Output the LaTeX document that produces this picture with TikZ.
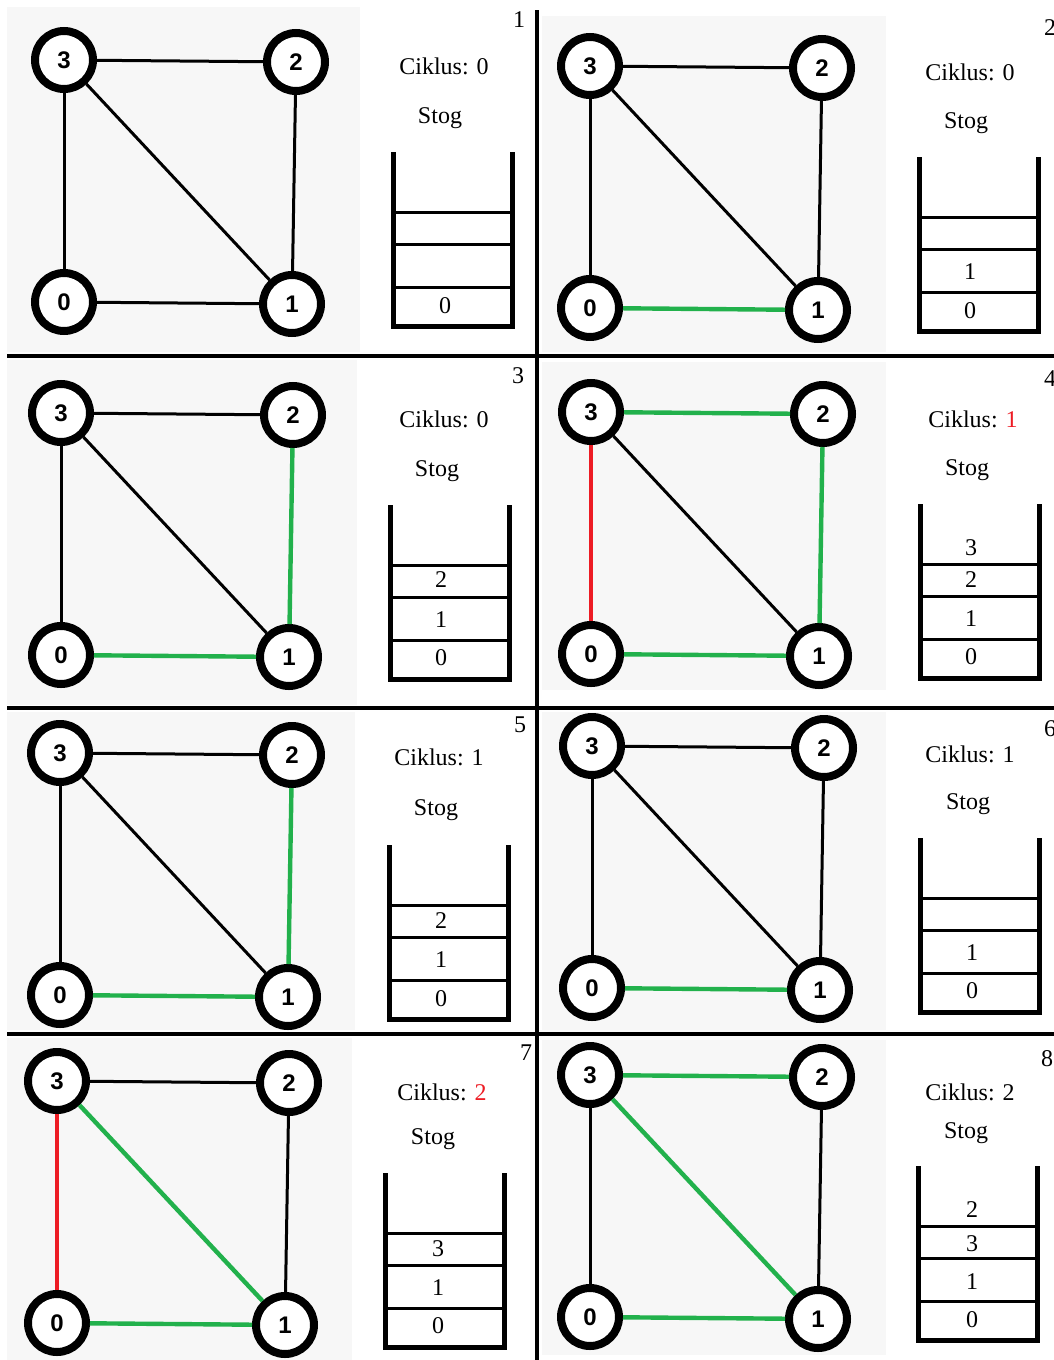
\documentclass[tikz,border=0pt]{standalone}
\usepackage{fontspec}
\setmainfont{Liberation Serif}
\newfontfamily\vtxfont{Liberation Sans}
\definecolor{bgc}{RGB}{247,247,247}
\definecolor{cgreen}{RGB}{34,177,76}
\definecolor{cred}{RGB}{237,28,36}
\tikzset{
  vtx/.style={circle,draw=black,line width=4pt,fill=white,minimum size=29pt,inner sep=0pt,
    font=\vtxfont\bfseries\fontsize{12}{14}\selectfont},
  k/.style={line width=1.5pt,black},
  g/.style={line width=2.2pt,cgreen},
  r/.style={line width=2.2pt,cred},
  bgbox/.style={fill=bgc,draw=none},
  divider/.style={line width=2pt,black},
  wall/.style={line width=2.5pt,black},
  slot/.style={line width=1.5pt,black},
  lbl/.style={font=\fontsize{12}{14}\selectfont,inner sep=0pt},
  stnum/.style={font=\fontsize{12}{14}\selectfont,inner sep=0pt},
}
% #1 id, #2 x, #3 y of vertex 3, #4 c32, #5 c30, #6 c31, #7 c21, #8 c01
\newcommand\graphp[8]{%
  \node[vtx] (#1v3) at (#2,#3) {3};
  \node[vtx] (#1v2) at ({#2+232},{#3+2}) {2};
  \node[vtx] (#1v0) at (#2,{#3+242}) {0};
  \node[vtx] (#1v1) at ({#2+228},{#3+244}) {1};
  \draw[#4] (#1v3) -- (#1v2);
  \draw[#5] (#1v3) -- (#1v0);
  \draw[#6] (#1v3) -- (#1v1);
  \draw[#7] (#1v2) -- (#1v1);
  \draw[#8] (#1v0) -- (#1v1);
}
% #1 xleft, #2 ytop
\newcommand\stackp[2]{%
  \draw[wall] (#1,#2) -- (#1,{#2+174}) -- ({#1+119},{#2+174}) -- ({#1+119},#2);
  \foreach \d in {60,92,135} \draw[slot] (#1,{#2+\d}) -- ({#1+119},{#2+\d});
}
\begin{document}
\begin{tikzpicture}[x=0.5pt,y=-0.5pt]
\clip (0,0) rectangle (1054,1360);
\fill[white] (0,0) rectangle (1054,1360);
% backgrounds
\fill[bgbox] (7,7) rectangle (360,352);
\fill[bgbox] (542,16) rectangle (886,352);
\fill[bgbox] (7,360) rectangle (357,705);
\fill[bgbox] (542,362) rectangle (886,690);
\fill[bgbox] (7,712) rectangle (355,1030);
\fill[bgbox] (542,712) rectangle (886,1030);
\fill[bgbox] (7,1038) rectangle (352,1360);
\fill[bgbox] (542,1040) rectangle (886,1355);
% dividers
\coordinate (dvT) at (537,10);
\coordinate (dvB) at (537,1360);
\draw[divider] (dvT) -- (dvB);
\coordinate (h1L) at (7,356);   \coordinate (h1R) at (1054,356);
\coordinate (h2L) at (7,708);   \coordinate (h2R) at (1054,708);
\coordinate (h3L) at (7,1034);  \coordinate (h3R) at (1054,1034);
\draw[divider] (h1L) -- (h1R);
\draw[divider] (h2L) -- (h2R);
\draw[divider] (h3L) -- (h3R);
% graphs
\graphp{pa}{64}{60}{k}{k}{k}{k}{k}
\graphp{pb}{590}{66}{k}{k}{k}{k}{g}
\graphp{pc}{61}{413}{k}{k}{k}{g}{g}
\graphp{pd}{591}{412}{g}{r}{k}{g}{g}
\graphp{pe}{60}{753}{k}{k}{k}{g}{g}
\graphp{pf}{592}{746}{k}{k}{k}{k}{g}
\graphp{pg}{57}{1081}{k}{r}{g}{k}{g}
\graphp{ph}{590}{1075}{g}{k}{g}{k}{g}
% panel 1
\node[lbl] (pan) at (519,20) {1};
\node[lbl] (pac) at (444,66) {Ciklus: 0};
\node[lbl] (pas) at (440,118) {Stog};
\stackp{393}{152}
\node[stnum] (pa0) at (445,306) {0};
% panel 2
\node[lbl] (pbn) at (1050,28) {2};
\node[lbl] (pbc) at (970,72) {Ciklus: 0};
\node[lbl] (pbs) at (966,123) {Stog};
\stackp{919}{157}
\node[stnum] (pb1) at (970,272) {1};
\node[stnum] (pb0) at (970,311) {0};
% panel 3
\node[lbl] (pcn) at (518,376) {3};
\node[lbl] (pcc) at (444,419) {Ciklus: 0};
\node[lbl] (pcs) at (437,471) {Stog};
\stackp{390}{505}
\node[stnum] (pc2) at (441,580) {2};
\node[stnum] (pc1) at (441,620) {1};
\node[stnum] (pc0) at (441,658) {0};
% panel 4
\node[lbl] (pdn) at (1050,379) {4};
\node[lbl] (pdc) at (973,419) {Ciklus: \textcolor{cred}{1}};
\node[lbl] (pds) at (967,470) {Stog};
\stackp{920}{504}
\node[stnum] (pd3) at (971,548) {3};
\node[stnum] (pd2) at (971,580) {2};
\node[stnum] (pd1) at (971,619) {1};
\node[stnum] (pd0) at (971,657) {0};
% panel 5
\node[lbl] (pen) at (520,725) {5};
\node[lbl] (pec) at (439,757) {Ciklus: 1};
\node[lbl] (pes) at (436,810) {Stog};
\stackp{389}{845}
\node[stnum] (pe2) at (441,921) {2};
\node[stnum] (pe1) at (441,960) {1};
\node[stnum] (pe0) at (441,999) {0};
% panel 6
\node[lbl] (pfn) at (1050,729) {6};
\node[lbl] (pfc) at (970,754) {Ciklus: 1};
\node[lbl] (pfs) at (968,804) {Stog};
\stackp{920}{838}
\node[stnum] (pf1) at (972,953) {1};
\node[stnum] (pf0) at (972,991) {0};
% panel 7
\node[lbl] (pgn) at (526,1053) {7};
\node[lbl] (pgc) at (442,1092) {Ciklus: \textcolor{cred}{2}};
\node[lbl] (pgs) at (433,1139) {Stog};
\stackp{385}{1173}
\node[stnum] (pg3) at (438,1249) {3};
\node[stnum] (pg1) at (438,1288) {1};
\node[stnum] (pg0) at (438,1326) {0};
% panel 8
\node[lbl] (phn) at (1047,1059) {8};
\node[lbl] (phc) at (970,1092) {Ciklus: 2};
\node[lbl] (phs) at (966,1133) {Stog};
\stackp{918}{1166}
\node[stnum] (ph2) at (972,1210) {2};
\node[stnum] (ph3) at (972,1244) {3};
\node[stnum] (ph1) at (972,1282) {1};
\node[stnum] (ph0) at (972,1320) {0};
\end{tikzpicture}
\end{document}
